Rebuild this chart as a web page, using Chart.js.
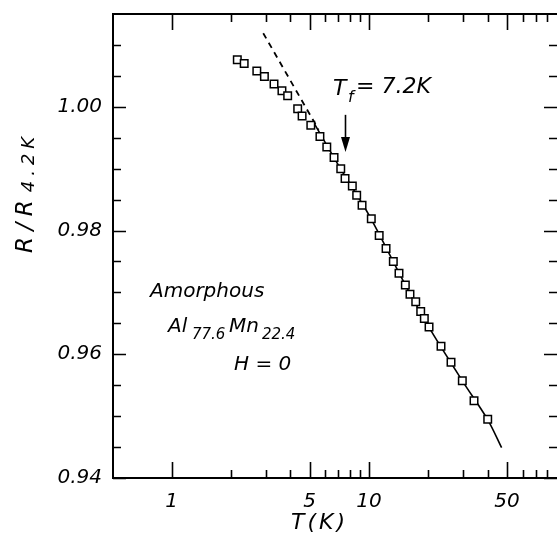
<!DOCTYPE html>
<html><head><meta charset="utf-8">
<script src="https://cdn.jsdelivr.net/npm/chart.js@4"></script>
<style>html,body{margin:0;padding:0;background:#fff;overflow:hidden}</style>
</head><body>
<canvas id="c" width="557" height="541"></canvas>
<script>
// Measured data: R/R(4.2K) vs T (K)
const tempK = [2.15,2.33,2.70,2.95,3.30,3.62,3.87,4.35,4.58,5.07,5.64,6.11,6.65,7.19,7.56,8.23,8.66,9.22,10.27,11.26,12.2,13.28,14.19,15.28,16.13,17.25,18.28,19.07,20.15,23.17,26.04,29.71,34.06,39.96];
const ratio = [1.0076,1.0070,1.0058,1.0049,1.0037,1.0026,1.0018,0.9997,0.9985,0.9970,0.9952,0.9935,0.9918,0.9900,0.9884,0.9872,0.9857,0.9841,0.9819,0.9792,0.9771,0.9750,0.9731,0.9712,0.9697,0.9685,0.9669,0.9658,0.9644,0.9613,0.9587,0.9557,0.9525,0.9495];
// solid fit line (ln T)
const fitT = [5.3,7.2,10,15,20,30,40,47];
const fitR = [0.9972,0.9899,0.9825,0.9717,0.9645,0.9555,0.9494,0.9449];
// dashed extrapolation
const extrapT = [2.91,5.55];
const extrapR = [1.0119,0.9963];
// axes
const xMin = 0.504, xMax = 89.7;
const yMin = 0.94, yMax = 1.015;
const xTicks = [1,2,3,4,5,6,7,8,9,10,20,30,40,50,60,70,80];
const xLabeled = [1,5,10,50];
const xLabels = ['1','5','10','50'];
const yTicks = [0.94,0.945,0.95,0.955,0.96,0.965,0.97,0.975,0.98,0.985,0.99,0.995,1.0,1.005,1.01];
const yLabeled = [0.94,0.96,0.98,1.0];
const yLabels = ['0.94','0.96','0.98','1.00'];
// annotation: freezing temperature arrow
const arrowT = 7.6, arrowTopR = 0.9987, arrowTipR = 0.9927;

const FONT = '"DejaVu Sans"';
function near(a,b){return Math.abs(a-b)<1e-6;}
function spaced(ctx, s, x, y, sp){
  for (const ch of s){ ctx.fillText(ch, x, y); x += ctx.measureText(ch).width + sp; }
  return x - sp;
}
function spacedWidth(ctx, s, sp){
  let w=0; for (const ch of s){ w += ctx.measureText(ch).width + sp; } return w - sp;
}

const overlay = {
  id:'overlay',
  afterDatasetsDraw(chart){
    const ctx = chart.ctx, a = chart.chartArea;
    const xs = chart.scales.x, ys = chart.scales.y;
    ctx.save();
    ctx.strokeStyle='#000'; ctx.fillStyle='#000';
    // frame
    ctx.lineWidth=2;
    ctx.beginPath();
    ctx.moveTo(a.right+2, a.top); ctx.lineTo(a.left, a.top); ctx.lineTo(a.left, a.bottom); ctx.lineTo(a.right+2, a.bottom);
    ctx.stroke();
    // x ticks (top and bottom, inward)
    ctx.lineWidth=1.6;
    xTicks.forEach(v=>{
      const px = Math.round(xs.getPixelForValue(v))+0.5;
      const len = xLabeled.some(l=>near(l,v)) ? 16 : 8;
      ctx.beginPath();
      ctx.moveTo(px, a.top); ctx.lineTo(px, a.top+len);
      ctx.moveTo(px, a.bottom); ctx.lineTo(px, a.bottom-len);
      ctx.stroke();
    });
    // y ticks (left and right, inward)
    yTicks.forEach(v=>{
      const py = Math.round(ys.getPixelForValue(v))+0.5;
      const len = yLabeled.some(l=>near(l,v)) ? 13 : 8;
      ctx.beginPath();
      ctx.moveTo(a.left, py); ctx.lineTo(a.left+len, py);
      ctx.moveTo(a.right, py); ctx.lineTo(a.right-len, py);
      ctx.stroke();
    });
    // arrow
    const ax = xs.getPixelForValue(arrowT);
    const ay0 = ys.getPixelForValue(arrowTopR), ay1 = ys.getPixelForValue(arrowTipR);
    ctx.lineWidth=1.6;
    ctx.beginPath(); ctx.moveTo(ax, ay0); ctx.lineTo(ax, ay1-10); ctx.stroke();
    ctx.beginPath(); ctx.moveTo(ax, ay1); ctx.lineTo(ax-4.5, ay1-15); ctx.lineTo(ax+4.5, ay1-15); ctx.closePath(); ctx.fill();
    // texts
    ctx.textBaseline='alphabetic'; ctx.textAlign='left';
    const sub = 'oblique 15px '+FONT;
    // T_f = 7.2K
    ctx.font='oblique 22px '+FONT; ctx.fillText('T',333,95);
    ctx.font='oblique 16px '+FONT; ctx.fillText('f',348,102);
    ctx.font='oblique 22px '+FONT; ctx.fillText('= 7.2K',356,93);
    // sample label
    ctx.font='oblique 20px '+FONT; ctx.fillText('Amorphous',150,297);
    ctx.fillText('Al',168,332);
    ctx.font=sub; ctx.fillText('77.6',192,339);
    ctx.font='oblique 20px '+FONT; ctx.fillText('Mn',229,332);
    ctx.font=sub; ctx.fillText('22.4',262,339);
    ctx.font='oblique 20px '+FONT; ctx.fillText('H = 0',234,370);
    // x title
    ctx.font='oblique 22px '+FONT;
    const tw = spacedWidth(ctx,'T(K)',3);
    spaced(ctx,'T(K)',318-tw/2,529,3);
    // y title
    ctx.save();
    ctx.translate(32,253); ctx.rotate(-Math.PI/2);
    ctx.textAlign='left'; ctx.font='oblique 23px '+FONT;
    const e = spaced(ctx,'R/R',0,0,6.5);
    ctx.font='oblique 18px '+FONT; spaced(ctx,'4.2K',e+8,2,5);
    ctx.restore();
    ctx.restore();
  }
};

function noPad(s){ s.paddingLeft=0; s.paddingRight=0; s.paddingTop=0; s.paddingBottom=0; }

new Chart(document.getElementById('c'),{
  type:'scatter',
  data:{datasets:[
    {label:'data', data:tempK.map((t,i)=>({x:t,y:ratio[i]})), showLine:false,
      pointStyle:'rect', pointRadius:5.3, pointBorderWidth:1.5, pointBorderColor:'#000', pointBackgroundColor:'#fff', order:0},
    {label:'fit', data:fitT.map((t,i)=>({x:t,y:fitR[i]})), showLine:true, borderColor:'#000', borderWidth:1.6,
      pointRadius:0, tension:0.3, order:2},
    {label:'extrap', data:extrapT.map((t,i)=>({x:t,y:extrapR[i]})), showLine:true, borderColor:'#000', borderWidth:1.8,
      borderDash:[6,5], pointRadius:0, order:3}
  ]},
  options:{
    responsive:false, animation:false,
    layout:{autoPadding:false, padding:{top:14,right:0,left:0,bottom:0}},
    plugins:{legend:{display:false},tooltip:{enabled:false}},
    scales:{
      x:{type:'logarithmic', min:xMin, max:xMax,
        afterBuildTicks(s){ s.ticks = xTicks.map(v=>({value:v})); },
        afterFit(s){ s.height = 63; noPad(s); },
        grid:{display:false, drawTicks:false}, border:{display:false},
        ticks:{autoSkip:false, maxRotation:0, padding:12, color:'#000',
          font:{family:'DejaVu Sans', size:20, style:'oblique'},
          callback(v){ const i = xLabeled.findIndex(l=>near(l,v)); return i>=0 ? xLabels[i] : ''; }}
      },
      y:{type:'linear', min:yMin, max:yMax,
        afterBuildTicks(s){ s.ticks = yTicks.map(v=>({value:v})); },
        afterFit(s){ s.width = 113; noPad(s); },
        grid:{display:false, drawTicks:false}, border:{display:false},
        ticks:{autoSkip:false, padding:11, color:'#000',
          font:{family:'DejaVu Sans', size:20, style:'oblique'},
          callback(v){ const i = yLabeled.findIndex(l=>near(l,v)); return i>=0 ? yLabels[i] : ''; }}
      }
    }
  },
  plugins:[overlay]
});
</script>
</body></html>
